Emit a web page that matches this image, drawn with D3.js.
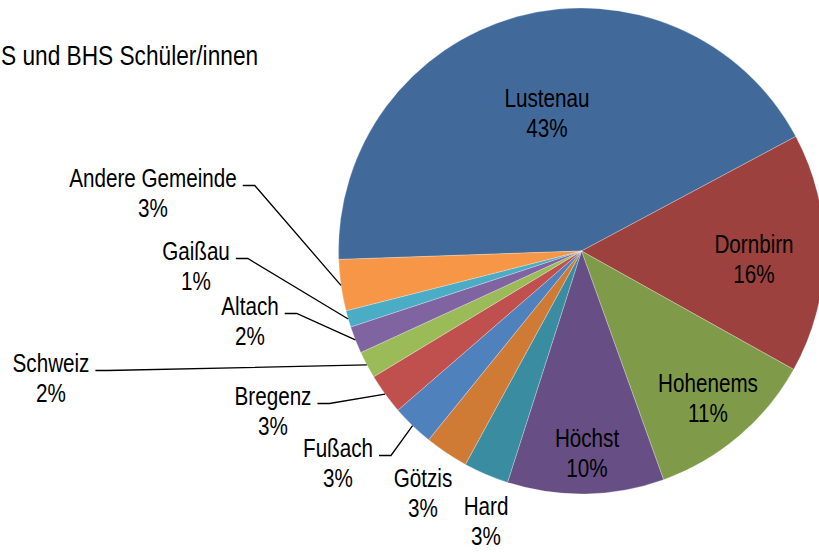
<!DOCTYPE html>
<html>
<head>
<meta charset="utf-8">
<script src="https://cdn.jsdelivr.net/npm/d3@7"></script>
<style>
  body { margin: 0; background: #fff; }
  svg text { font-family: "Liberation Sans Narrow", "Arial Narrow", "Liberation Sans", sans-serif; fill: #000; }
</style>
</head>
<body>
<svg width="819" height="552"></svg>
<script>
// data, clockwise from the left edge of the big slice
var names = ['Lustenau', 'Dornbirn', 'Hohenems', 'Höchst', 'Hard', 'Götzis',
  'Fußach', 'Bregenz', 'Schweiz', 'Altach', 'Gaißau', 'Andere Gemeinde'];
var values = [42.7, 15.9, 11.4, 10.4, 3.0, 2.9, 2.8, 2.7, 1.8, 1.8, 1.1, 3.4];
var colors = ['#416a9b', '#9c413e', '#7f9a48', '#674f85', '#3a8ca1', '#cf7b36',
  '#4f81bd', '#c0504d', '#9bbb59', '#8064a2', '#4bacc6', '#f79646'];
var title = 'S und BHS Schüler/innen';

// label placement: [center x, first baseline]
var labelAt = {
  'Lustenau': [547, 107], 'Dornbirn': [754, 253], 'Hohenems': [708, 392], 'Höchst': [587, 447],
  'Hard': [486, 515], 'Götzis': [423, 487], 'Fußach': [338, 457], 'Bregenz': [273, 405],
  'Schweiz': [51, 372], 'Altach': [250, 315], 'Gaißau': [196, 260], 'Andere Gemeinde': [153, 187]
};
// these get a leader line to their slice
var leader = ['Fußach', 'Bregenz', 'Schweiz', 'Altach', 'Gaißau', 'Andere Gemeinde'];

var svg = d3.select('svg');
var cx = 581.5, cy = 251, r = 243;
var fontSize = 25.5;
var narrow = 0.81; // no narrow font installed, squeeze the regular one

svg.append('text')
  .attr('transform', 'translate(1,65) scale(' + narrow + ',1)')
  .style('font-size', '28px')
  .text(title);

var total = d3.sum(values);
var rows = names.map(function(n, i) { return {name: n, value: values[i], color: colors[i]}; });

var pie = d3.pie()
  .sort(null)
  .value(function(d) { return d.value; })
  .startAngle(268 * Math.PI / 180)
  .endAngle(268 * Math.PI / 180 + 2 * Math.PI);
var arc = d3.arc().innerRadius(0).outerRadius(r);
var arcs = pie(rows);

var g = svg.append('g').attr('transform', 'translate(' + cx + ',' + cy + ')');
g.selectAll('path')
  .data(arcs)
  .enter()
  .append('path')
  .attr('d', arc)
  .attr('fill', function(d) { return d.data.color; })
  .attr('stroke', 'rgba(255,255,255,0.45)')
  .attr('stroke-width', 0.6);

var labels = svg.append('g');
arcs.forEach(function(d) {
  var p = labelAt[d.data.name];
  var t = labels.append('text')
    .attr('text-anchor', 'middle')
    .attr('transform', 'translate(' + p[0] + ',' + p[1] + ') scale(' + narrow + ',1)')
    .style('font-size', fontSize + 'px');
  t.append('tspan').attr('x', 0).attr('y', 0).text(d.data.name);
  t.append('tspan').attr('x', 0).attr('y', 30)
    .text(Math.round(d.data.value / total * 100) + '%');

  if (leader.indexOf(d.data.name) >= 0) {
    var right = t.select('tspan').node().getComputedTextLength() * narrow / 2 + p[0];
    var mid = (d.startAngle + d.endAngle) / 2;
    var ex = cx + Math.sin(mid) * r;
    var ey = cy - Math.cos(mid) * r;
    var ly = p[1] - 1.5;
    labels.append('path')
      .attr('d', 'M' + (right + 6) + ',' + ly + 'H' + (right + 18) + 'L' + ex + ',' + ey)
      .attr('fill', 'none')
      .attr('stroke', '#000')
      .attr('stroke-width', 1.3);
  }
});
</script>
</body>
</html>
